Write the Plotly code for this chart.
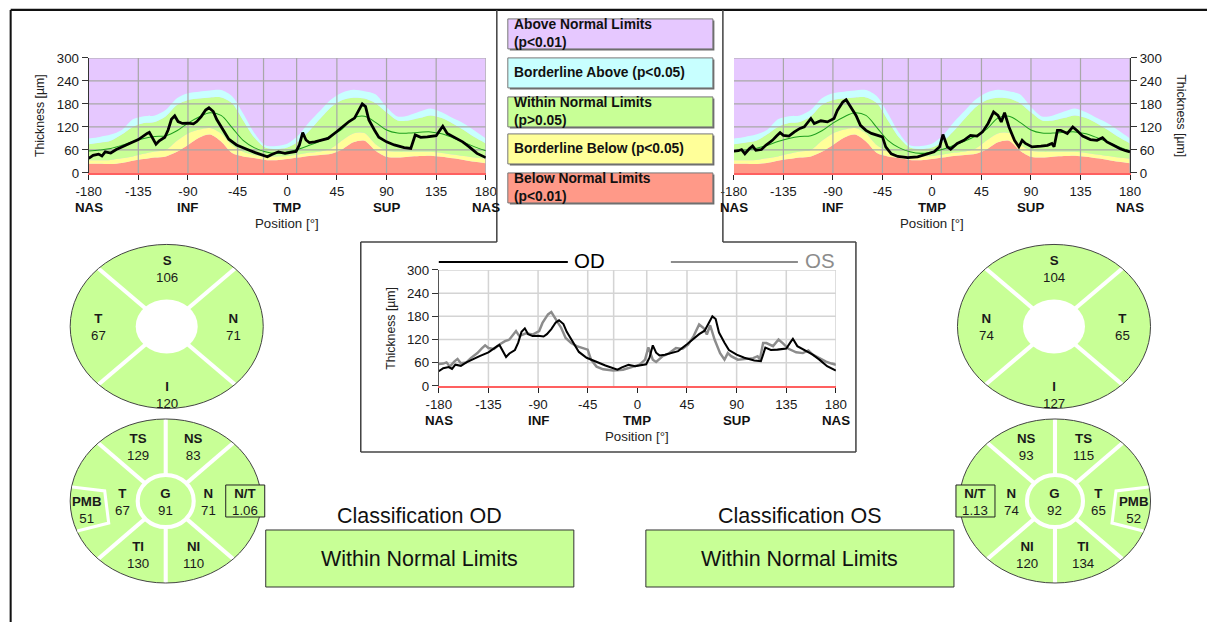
import math
import plotly.graph_objects as go

# layout is written in page pixels of a 1207 x 622 sheet; the browser keeps its
# default 8px body margin and the captured view is slightly reduced, so page
# pixels are mapped through a small scale/offset before reaching the figure
SX, AX = 0.98, 4.5
SY, AY = 0.976, -0.7
OFF = 8
K = 2.0 / (SX + SY)          # size factor for fonts and strokes
W = int(round((1207 - AX) / SX)) - OFF
H = int(round((622 - AY) / SY)) - OFF
FONT = "Liberation Sans, Arial, sans-serif"

# ---------------- data ----------------
# normative percentile limits of RNFL thickness (µm), every 10°
band_pos = list(range(-180, 181, 10))
band_p1 = [24, 24, 23, 26, 32, 36, 40, 43, 55, 73, 92, 100, 82, 52, 43, 39, 34, 33, 36,
           40, 44, 47, 50, 62, 80, 84, 58, 42, 40, 42, 44, 45, 42, 38, 34, 29, 25]
band_p5 = [33, 33, 34, 38, 43, 50, 56, 60, 84, 103, 113, 117, 103, 72, 55, 47, 43, 43, 44,
           48, 53, 56, 64, 85, 103, 104, 75, 58, 55, 55, 55, 55, 52, 48, 44, 40, 37]
band_p95 = [75, 79, 84, 100, 120, 130, 133, 148, 177, 190, 194, 197, 197, 182, 137, 93, 66, 62, 66,
            82, 110, 142, 172, 190, 196, 194, 182, 158, 137, 137, 143, 150, 143, 129, 112, 93, 77]
band_p99 = [90, 94, 100, 112, 140, 148, 150, 165, 195, 208, 212, 215, 216, 200, 155, 105, 72, 70, 76,
            98, 133, 163, 192, 210, 217, 213, 205, 172, 147, 150, 160, 168, 158, 143, 129, 110, 90]
norm_mean = [57, 60, 64, 72, 82, 90, 95, 97, 110, 130, 146, 157, 150, 118, 85, 66, 55, 51, 55,
             62, 72, 83, 97, 115, 143, 148, 132, 112, 104, 104, 106, 107, 102, 92, 80, 68, 58]

# measured TSNIT profile, right eye (OD)
od_pos = [-180, -176, -171, -168, -165, -160, -155, -149, -143, -135, -131, -127, -125, -122, -119,
          -116, -111, -108, -105, -102, -99, -95, -90, -85, -82, -78, -74, -71, -67, -64, -61, -57,
          -53, -46, -41, -35, -29, -23, -18, -14, -8, -2, 0, 4, 8, 11, 14, 17, 20, 25, 30, 37, 45,
          52, 56, 61, 65, 68, 71, 74, 79, 83, 90, 97, 106, 112, 116, 121, 127, 135, 139, 141, 145,
          151, 159, 165, 172, 180]
od_thk = [38, 46, 49, 44, 55, 52, 61, 68, 77, 87, 96, 103, 106, 92, 75,
          84, 93, 112, 140, 149, 134, 129, 130, 128, 134, 147, 164, 170, 160, 140, 125, 108,
          88, 73, 68, 60, 53, 47, 42, 48, 55, 51, 52, 55, 56, 73, 105, 86, 79, 81, 84, 90, 108,
          125, 134, 143, 164, 180, 173, 138, 112, 93, 81, 73, 66, 64, 99, 93, 94, 97, 114, 122, 103,
          93, 81, 68, 51, 40]

# measured TSNIT profile, left eye (OS)
os_pos = [-180, -176, -173, -170, -166, -163, -160, -155, -151, -145, -141, -138, -135, -130, -125,
          -120, -116, -113, -110, -107, -104, -101, -95, -89, -86, -81, -78, -74, -69, -65, -60, -55,
          -49, -45, -42, -37, -31, -22, -13, -4, 2, 7, 10, 14, 17, 23, 29, 35, 41, 46, 51, 56, 60,
          63, 66, 70, 75, 79, 82, 85, 91, 99, 105, 109, 111, 114, 117, 123, 128, 132, 137, 144, 150,
          155, 159, 165, 171, 176, 180]
os_thk = [57, 58, 61, 50, 63, 70, 59, 61, 72, 85, 97, 105, 98, 96, 107,
          116, 120, 130, 142, 129, 133, 136, 133, 142, 163, 185, 191, 172, 150, 124, 111, 103,
          98, 94, 68, 50, 43, 40, 42, 50, 55, 68, 100, 68, 62, 77, 85, 98, 96, 107, 129, 159, 150,
          133, 157, 120, 85, 68, 85, 77, 68, 70, 72, 77, 68, 111, 111, 103, 120, 110, 96, 87, 85,
          92, 81, 72, 63, 58, 55]

tick_deg = [-180, -135, -90, -45, 0, 45, 90, 135, 180]
tick_text = ["-180", "-135", "-90", "-45", "0", "45", "90", "135", "180"]
region_deg = [-180, -90, 0, 90, 180]
region_text = ["NAS", "INF", "TMP", "SUP", "NAS"]
grid_deg = [-135, -90, -45, -21.5, 8.5, 45, 90, 135, 180]
thk_ticks = [0, 60, 120, 180, 240, 300]

legend_text = ["Above Normal Limits<br>(p<0.01)", "Borderline Above (p<0.05)",
               "Within Normal Limits<br>(p>0.05)", "Borderline Below (p<0.05)",
               "Below Normal Limits<br>(p<0.01)"]

quadrant_names = ["S", "N", "I", "T"]
od_quadrants = [106, 71, 120, 67]
os_quadrants = [104, 74, 127, 65]
sector_names = ["TS", "NS", "N", "NI", "TI", "T", "G", "PMB"]
od_sectors = [129, 83, 71, 110, 130, 67, 91, 51]
os_sectors = [115, 93, 74, 120, 134, 65, 92, 52]
nt_ratio = [1.06, 1.13]
classification = ["Within Normal Limits", "Within Normal Limits"]

# ---------------- styling ----------------
C_PURPLE = "#e6c8ff"
C_CYAN = "#c8ffff"
C_GREEN = "#c8ff96"
C_YELLOW = "#ffff99"
C_RED = "#ff9988"
band_colors = [C_PURPLE, C_CYAN, C_GREEN, C_YELLOW, C_RED]


def fx(x):
    """sheet pixel x -> paper fraction"""
    return ((x - AX) / SX - OFF) / W


def fy(y):
    """sheet pixel y -> paper fraction"""
    return 1 - ((y - AY) / SY - OFF) / H


def fs(size):
    return round(size * K, 2)


fig = go.Figure()
shapes = []
annotations = []

# plot rectangles in sheet pixels: left, top, right, bottom
areas = {"od": (88, 58, 485, 173), "os": (733, 58, 1129, 173), "both": (438, 270, 835, 386)}
axis_ids = {"od": ("x", "y"), "os": ("x2", "y2"), "both": ("x3", "y3")}


def grid_trace(xa, ya, color, width):
    xs, ys = [], []
    for v in grid_deg:
        xs += [v, v, None]
        ys += [0, 300, None]
    for h in thk_ticks[1:]:
        xs += [-180, 180, None]
        ys += [h, h, None]
    return go.Scatter(x=xs, y=ys, mode="lines", xaxis=xa, yaxis=ya, hoverinfo="skip",
                      line=dict(color=color, width=fs(width)), showlegend=False)


def band_traces(xa, ya):
    out = []
    for vals, col, fill in [(band_p1, C_RED, "tozeroy"), (band_p5, C_YELLOW, "tonexty"),
                            (band_p95, C_GREEN, "tonexty"), (band_p99, C_CYAN, "tonexty")]:
        out.append(go.Scatter(x=band_pos, y=vals, mode="lines", fill=fill, fillcolor=col,
                              line=dict(width=0, shape="spline", smoothing=0.8),
                              xaxis=xa, yaxis=ya, hoverinfo="skip", showlegend=False))
    return out


for key, pos, thk in [("od", od_pos, od_thk), ("os", os_pos, os_thk)]:
    xa, ya = axis_ids[key]
    shapes.append(dict(type="rect", xref=xa, yref=ya, x0=-180, x1=180, y0=0, y1=300,
                       fillcolor=C_PURPLE, line=dict(width=0), layer="below"))
    for t in band_traces(xa, ya):
        fig.add_trace(t)
    fig.add_trace(grid_trace(xa, ya, "#a8a8a8", 1.2))
    fig.add_trace(go.Scatter(x=band_pos, y=norm_mean, mode="lines", xaxis=xa, yaxis=ya,
                             line=dict(color="#1e9e1e", width=fs(1), shape="spline"),
                             hoverinfo="skip", showlegend=False))
    fig.add_trace(go.Scatter(x=pos, y=thk, mode="lines", xaxis=xa, yaxis=ya,
                             line=dict(color="#000000", width=fs(2.7)), showlegend=False))

# combined OD / OS chart
fig.add_trace(grid_trace("x3", "y3", "#d4d4d4", 1.5))
fig.add_trace(go.Scatter(x=os_pos, y=os_thk, mode="lines", xaxis="x3", yaxis="y3",
                         line=dict(color="#8c8c8c", width=fs(2.4)), showlegend=False))
fig.add_trace(go.Scatter(x=od_pos, y=od_thk, mode="lines", xaxis="x3", yaxis="y3",
                         line=dict(color="#000000", width=fs(2)), showlegend=False))

tickfont = dict(family=FONT, size=fs(13), color="#1a1a1a")
layout_axes = {}
for key, (l, t, r, b) in areas.items():
    xa, ya = axis_ids[key]
    xname = "xaxis" if xa == "x" else "xaxis" + xa[1:]
    yname = "yaxis" if ya == "y" else "yaxis" + ya[1:]
    layout_axes[xname] = dict(domain=[fx(l), fx(r)], anchor=ya, range=[-180, 180],
                              tickmode="array", tickvals=tick_deg, ticktext=tick_text,
                              ticks="outside", ticklen=5, tickcolor="#222", tickwidth=1,
                              showline=True, linecolor="#ff6060",
                              linewidth=fs(2) if key != "both" else fs(1.5),
                              showgrid=False, zeroline=False, tickfont=tickfont,
                              fixedrange=True)
    layout_axes[yname] = dict(domain=[fy(b), fy(t)], anchor=xa, range=[0, 300],
                              tickmode="array", tickvals=thk_ticks,
                              ticks="outside", ticklen=6, tickcolor="#333", tickwidth=1,
                              showline=True, linecolor="#333" if key != "both" else "#555",
                              linewidth=1, showgrid=False, zeroline=False, tickfont=tickfont,
                              side="right" if key == "os" else "left", fixedrange=True)

    # region names and axis titles
    for d, name in zip(region_deg, region_text):
        annotations.append(dict(x=d, xref=xa, y=fy(b + 35), yref="paper", text="<b>%s</b>" % name,
                                showarrow=False, font=dict(family=FONT, size=fs(13), color="#111"),
                                xanchor="center", yanchor="middle"))
    annotations.append(dict(x=0, xref=xa, y=fy(b + 51), yref="paper", text="Position [°]",
                            showarrow=False, font=dict(family=FONT, size=fs(13), color="#222"),
                            xanchor="center", yanchor="middle"))
    ymid = (t + b) / 2
    if key == "os":
        annotations.append(dict(x=fx(r + 51), xref="paper", y=fy(ymid), yref="paper",
                                text="Thickness [µm]", textangle=90, showarrow=False,
                                font=dict(family=FONT, size=fs(12), color="#222"),
                                xanchor="center", yanchor="middle"))
    else:
        annotations.append(dict(x=fx(l - 48), xref="paper", y=fy(ymid), yref="paper",
                                text="Thickness [µm]", textangle=-90, showarrow=False,
                                font=dict(family=FONT, size=fs(12), color="#222"),
                                xanchor="center", yanchor="middle"))

# legend of the combined chart
shapes.append(dict(type="line", xref="paper", yref="paper", x0=fx(438), x1=fx(567),
                   y0=fy(262), y1=fy(262), line=dict(color="#000", width=fs(2))))
shapes.append(dict(type="line", xref="paper", yref="paper", x0=fx(670), x1=fx(797),
                   y0=fy(262), y1=fy(262), line=dict(color="#8c8c8c", width=fs(2))))
annotations.append(dict(x=fx(571), y=fy(261), xref="paper", yref="paper", text="OD",
                        showarrow=False, xanchor="left", yanchor="middle",
                        font=dict(family=FONT, size=fs(20), color="#000")))
annotations.append(dict(x=fx(802), y=fy(261), xref="paper", yref="paper", text="OS",
                        showarrow=False, xanchor="left", yanchor="middle",
                        font=dict(family=FONT, size=fs(20), color="#8c8c8c")))

# colour legend boxes
box_tops = [19, 58, 97, 134, 173]
for top, col, txt in zip(box_tops, band_colors, legend_text):
    shapes.append(dict(type="rect", xref="paper", yref="paper", x0=fx(509), x1=fx(713.5),
                       y0=fy(top + 1.5), y1=fy(top + 31.5), fillcolor="#6a6a6a",
                       line=dict(width=0)))
    shapes.append(dict(type="rect", xref="paper", yref="paper", x0=fx(507), x1=fx(712),
                       y0=fy(top), y1=fy(top + 30), fillcolor=col,
                       line=dict(color="#777", width=1)))
    annotations.append(dict(x=fx(511), y=fy(top + 14.5), xref="paper", yref="paper",
                            text="<b>%s</b>" % txt, showarrow=False, xanchor="left",
                            yanchor="middle", align="left",
                            font=dict(family=FONT, size=fs(13.5), color="#111")))


# sector maps
def ell(cx, cy, rx, ry, **kw):
    d = dict(type="circle", xref="paper", yref="paper", x0=fx(cx - rx), x1=fx(cx + rx),
             y0=fy(cy + ry), y1=fy(cy - ry))
    d.update(kw)
    return d


def spoke(cx, cy, rx, ry, ang):
    a = math.radians(ang)
    return dict(type="line", xref="paper", yref="paper", x0=fx(cx), y0=fy(cy),
                x1=fx(cx + rx * math.cos(a)), y1=fy(cy - ry * math.sin(a)),
                line=dict(color="white", width=fs(4)))


def label(x, y, name, value, size=13):
    annotations.append(dict(x=fx(x), y=fy(y), xref="paper", yref="paper",
                            text="<b>%s</b><br>%s" % (name, value), showarrow=False,
                            xanchor="center", yanchor="middle",
                            font=dict(family=FONT, size=fs(size), color="#1a1a1a")))


RX, RY = 96.5, 82
for eye, (cxq, cxs), quad, sect, nt, tside in [
        ("OD", (166, 165), od_quadrants, od_sectors, nt_ratio[0], -1),
        ("OS", (1053, 1054), os_quadrants, os_sectors, nt_ratio[1], 1)]:
    # quadrant map
    cy = 326.5
    shapes.append(ell(cxq, cy, RX, RY, fillcolor=C_GREEN, line=dict(width=0)))
    for ang in (45, 135, 225, 315):
        shapes.append(spoke(cxq, cy, RX, RY, ang))
    shapes.append(ell(cxq, cy, RX, RY, line=dict(color="#444", width=1)))
    shapes.append(ell(cxq, cy, 31, 27, fillcolor="white", line=dict(width=0)))
    offs = {"S": (0, -57), "I": (0, 68.5), "T": (tside * 68, 1), "N": (-tside * 67, 1)}
    for name, val in zip(quadrant_names, quad):
        dx, dy = offs[name]
        label(cxq + dx, cy + dy, name, val)

    # six-sector map
    cy = 501
    shapes.append(ell(cxs, cy, RX - 1, RY, fillcolor=C_GREEN, line=dict(width=0)))
    for ang in (45, 90, 135, 225, 270, 315):
        shapes.append(spoke(cxs, cy, RX - 1, RY, ang))
    shapes.append(ell(cxs, cy, RX - 1, RY, line=dict(color="#444", width=1)))
    shapes.append(ell(cxs, cy, 28, 26, fillcolor=C_GREEN, line=dict(color="white", width=fs(4))))
    pts = [(-93.6, -14), (-61, -10), (-57, 22), (-88.4, 30)]
    path = "M " + " L ".join("%.5f %.5f" % (fx(cxs - tside * px_), fy(cy + py_))
                             for px_, py_ in pts)
    shapes.append(dict(type="path", xref="paper", yref="paper", path=path,
                       line=dict(color="white", width=fs(3))))
    offs = {"TS": (tside * 28, -54), "NS": (-tside * 28, -54), "N": (-tside * 43, 1),
            "NI": (-tside * 28, 54), "TI": (tside * 28, 54), "T": (tside * 43, 1),
            "G": (0, 1), "PMB": (tside * 79, 9)}
    for name, val in zip(sector_names, sect):
        dx, dy = offs[name]
        label(cxs + dx, cy + dy, name, val)
    bx = cxs - tside * 79.5
    shapes.append(dict(type="rect", xref="paper", yref="paper", x0=fx(bx - 19.5),
                       x1=fx(bx + 19.5), y0=fy(cy + 16), y1=fy(cy - 16),
                       fillcolor=C_GREEN, line=dict(color="#222", width=1)))
    label(bx, cy + 1, "N/T", "%.2f" % nt)

# classification boxes
for i, (cx, eye) in enumerate([(419, "OD"), (799, "OS")]):
    annotations.append(dict(x=fx(cx), y=fy(516), xref="paper", yref="paper",
                            text="Classification %s" % eye, showarrow=False,
                            font=dict(family=FONT, size=fs(21), color="#111"),
                            xanchor="center", yanchor="middle"))
    shapes.append(dict(type="rect", xref="paper", yref="paper", x0=fx(cx - 154),
                       x1=fx(cx + 154), y0=fy(587), y1=fy(530), fillcolor=C_GREEN,
                       line=dict(color="#333", width=1)))
    annotations.append(dict(x=fx(cx), y=fy(559), xref="paper", yref="paper",
                            text=classification[i], showarrow=False,
                            font=dict(family=FONT, size=fs(21), color="#111"),
                            xanchor="center", yanchor="middle"))


# page frame
def seg(x0, y0, x1, y1, color="#111", width=2):
    shapes.append(dict(type="line", xref="paper", yref="paper", x0=fx(x0), y0=fy(y0),
                       x1=fx(x1), y1=fy(y1), line=dict(color=color, width=fs(width))))


seg(10, 10, 1207, 10)
seg(10, 10, 10, 622)
seg(496, 10, 496, 242, "#444", 1.5)
seg(360, 242, 496, 242, "#444", 1.5)
seg(722, 10, 722, 242, "#444", 1.5)
seg(722, 242, 855, 242, "#444", 1.5)
seg(360, 242, 360, 452, "#444", 1.5)
seg(855, 242, 855, 452, "#444", 1.5)
seg(360, 452, 855, 452, "#444", 1.5)

fig.update_layout(width=W, height=H, margin=dict(l=0, r=0, t=0, b=0),
                  paper_bgcolor="white", plot_bgcolor="rgba(0,0,0,0)",
                  showlegend=False, shapes=shapes, annotations=annotations,
                  font=dict(family=FONT), **layout_axes)

fig.write_html("out.html")
